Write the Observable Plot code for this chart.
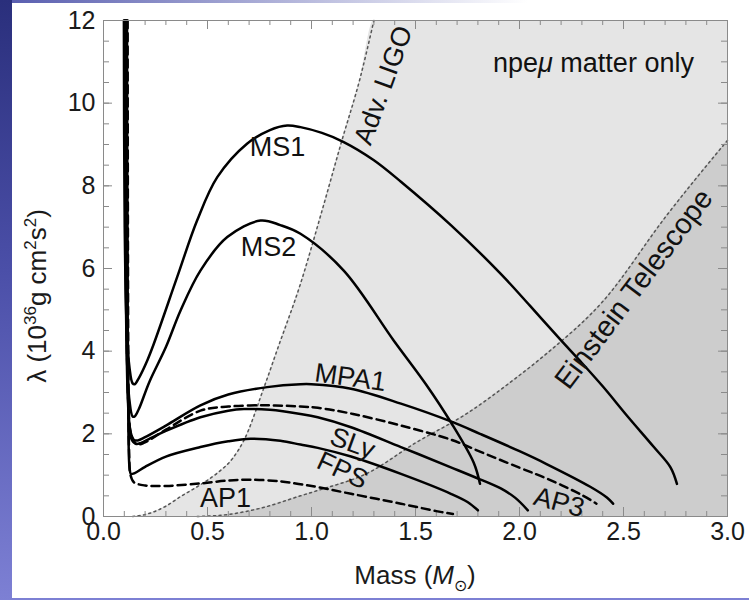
<!DOCTYPE html>
<html><head><meta charset="utf-8">
<script src="https://cdn.jsdelivr.net/npm/d3@7"></script>
<script src="https://cdn.jsdelivr.net/npm/@observablehq/plot@0.6"></script>
<style>
html,body{margin:0;padding:0;width:749px;height:600px;overflow:hidden;}
body{background:linear-gradient(to bottom,#2a2f7c 0%,#4b4fa8 45%,#7d80d4 100%);position:relative;font-family:'Liberation Sans',Arial,sans-serif;}
#topstrip{position:absolute;left:12px;top:0;width:737px;height:3px;background:linear-gradient(to right,#5a5fb0,#fff 70%);}
#panel{position:absolute;left:12px;top:3px;width:737px;height:595px;background:#fff;}
</style></head><body>
<div id="topstrip"></div>
<div id="panel"></div>
<script>
// ---- data (Mass in solar masses, lambda in 1e36 g cm^2 s^2) ----
const ms1 = [[0.098,12],[0.102,7],[0.112,4.5],[0.125,3.6],[0.14,3.22],[0.15,3.2],[0.17,3.35],[0.21,3.77],[0.242,4.18],[0.354,5.79],[0.45,7.16],[0.547,8.21],[0.69,9.02],[0.8,9.35],[0.883,9.46],[0.947,9.42],[1.05,9.28],[1.155,9.06],[1.3,8.62],[1.43,8.1],[1.67,7.05],[1.91,5.87],[2.05,5.1],[2.2,4.26],[2.29,3.77],[2.4,3.15],[2.52,2.42],[2.646,1.68],[2.726,1.19],[2.757,0.79]];
const ms2 = [[0.101,12],[0.105,7],[0.113,3.8],[0.125,2.8],[0.14,2.42],[0.15,2.42],[0.17,2.6],[0.22,3.25],[0.30,4.1],[0.37,4.98],[0.466,5.95],[0.595,6.76],[0.755,7.16],[0.85,7.05],[0.947,6.84],[1.155,5.95],[1.395,4.26],[1.55,3.2],[1.67,2.28],[1.78,1.3],[1.81,0.79]];
const mpa1 = [[0.104,12],[0.108,6],[0.116,3],[0.128,2.1],[0.145,1.86],[0.165,1.84],[0.2,1.92],[0.3,2.2],[0.466,2.69],[0.6,2.95],[0.787,3.13],[0.947,3.2],[1.0,3.2],[1.19,3.09],[1.43,2.73],[1.67,2.3],[1.81,2.0],[2.0,1.58],[2.13,1.27],[2.34,0.72],[2.42,0.46],[2.45,0.31]];
const ap3 = [[0.107,12],[0.111,6],[0.119,2.8],[0.135,1.95],[0.16,1.75],[0.194,1.78],[0.3,2.1],[0.466,2.56],[0.6,2.66],[0.787,2.69],[0.947,2.66],[1.03,2.63],[1.2,2.48],[1.43,2.2],[1.67,1.86],[1.81,1.57],[2.0,1.18],[2.13,0.92],[2.3,0.52],[2.37,0.31]];
const sly = [[0.11,12],[0.114,6],[0.12,2.6],[0.132,1.9],[0.155,1.76],[0.18,1.78],[0.22,1.88],[0.3,2.07],[0.466,2.4],[0.6,2.56],[0.675,2.6],[0.8,2.58],[0.947,2.48],[1.03,2.4],[1.19,2.16],[1.43,1.68],[1.67,1.19],[1.81,0.9],[1.91,0.68],[1.98,0.45],[2.04,0.15]];
const fps = [[0.113,12],[0.116,5],[0.12,2],[0.125,1.2],[0.132,1.03],[0.15,1.05],[0.2,1.2],[0.3,1.45],[0.466,1.68],[0.6,1.82],[0.707,1.88],[0.85,1.83],[0.947,1.74],[1.03,1.66],[1.19,1.45],[1.43,1.03],[1.67,0.55],[1.75,0.35],[1.8,0.15]];
const ap1 = [[0.116,12],[0.119,4],[0.123,1.6],[0.13,1.0],[0.146,0.83],[0.2,0.75],[0.3,0.74],[0.466,0.8],[0.6,0.87],[0.707,0.89],[0.85,0.85],[0.947,0.78],[1.03,0.71],[1.19,0.55],[1.43,0.31],[1.6,0.13],[1.68,0.06]];
const advLigo = [[0.14,0],[0.21,0.06],[0.3,0.25],[0.37,0.48],[0.46,0.75],[0.547,1.05],[0.62,1.4],[0.675,1.84],[0.77,3.1],[0.84,4.1],[0.947,5.63],[1.045,7.3],[1.144,9.06],[1.235,10.63],[1.30,12]];
const einstein = [[0.45,0],[0.6,0.05],[0.755,0.2],[0.947,0.5],[1.03,0.63],[1.27,1.05],[1.5,1.78],[1.75,2.5],[1.97,3.3],[2.13,3.94],[2.4,5.2],[2.71,7.3],[3.0,9.1]];
const eosNames = ["MS1","MS2","MPA1","AP3","SLy","FPS","AP1"];
const eosDashed = [false,false,false,true,false,false,true];
const labelText = ["MS1","MS2","MPA1","SLy","FPS","AP1","AP3","Adv. LIGO","Einstein Telescope"];
const labelX = [0.837,0.793,1.187,1.197,1.149,0.587,2.19,1.346,2.55];
const labelY = [8.93,6.51,3.36,1.77,1.11,0.44,0.34,10.43,5.5];
const labelRot = [0,0,8,20,25,0,15,-70,-53];
const labelSize = [27,27,27,27,27,27,27,27,29];
const xMajor = [0,0.5,1,1.5,2,2.5,3];
const xMinor = d3.range(0,31).map(i=>i/10);
const yMajor = [0,2,4,6,8,10,12];
const yMinor = d3.range(0,25).map(i=>i/2);

// ---- build tables ----
const eosData = [ms1,ms2,mpa1,ap3,sly,fps,ap1];
const rows = [];
eosData.forEach((pts,i)=>pts.forEach(([x,y])=>rows.push({eos:eosNames[i],dashed:eosDashed[i],x,y})));
const toXY = a => a.map(([x,y])=>({x,y}));
const ligoArea = toXY(advLigo.concat([[3.0,12]]));
const etArea = toXY(einstein);
const labels = labelText.map((t,i)=>({t,x:labelX[i],y:labelY[i],r:labelRot[i],s:labelSize[i]}));

const FH = 496; // frame height in px
const FW = 624;
const tickCol = "#8a8a8a";
const chart = Plot.plot({
  width: 737, height: 595,
  marginLeft: 91, marginRight: 22, marginTop: 17, marginBottom: 82,
  x: {domain:[0,3]},
  y: {domain:[0,12]},
  style: {fontFamily:"'Liberation Sans', Arial, sans-serif", fontSize:"25px", background:"white", color:"#1a1a1a"},
  marks: [
    Plot.areaY(ligoArea, {x:"x", y1:0, y2:"y", fill:"#e5e5e5", curve:"monotone-x"}),
    Plot.areaY(etArea, {x:"x", y1:0, y2:"y", fill:"#cdcdcd", curve:"monotone-x"}),
    Plot.line(toXY(advLigo), {x:"x", y:"y", stroke:"#555", strokeWidth:1.5, strokeDasharray:"2,3.5", curve:"monotone-x"}),
    Plot.line(etArea, {x:"x", y:"y", stroke:"#555", strokeWidth:1.5, strokeDasharray:"2,3.5", curve:"monotone-x"}),
    Plot.tickX(xMinor, {x:d=>d, insetTop:FH-5, stroke:tickCol}),
    Plot.tickX(xMajor, {x:d=>d, insetTop:FH-9, stroke:tickCol}),
    Plot.tickX(xMinor, {x:d=>d, insetBottom:FH-5, stroke:tickCol}),
    Plot.tickX(xMajor, {x:d=>d, insetBottom:FH-9, stroke:tickCol}),
    Plot.tickY(yMinor, {y:d=>d, insetRight:FW-6, stroke:tickCol}),
    Plot.tickY(yMajor, {y:d=>d, insetRight:FW-9, stroke:tickCol}),
    Plot.tickY(yMinor, {y:d=>d, insetLeft:FW-6, stroke:tickCol}),
    Plot.tickY(yMajor, {y:d=>d, insetLeft:FW-9, stroke:tickCol}),
    Plot.line(rows.filter(d=>!d.dashed), {x:"x", y:"y", z:"eos", stroke:"black", strokeWidth:2.5, curve:"catmull-rom"}),
    Plot.line(rows.filter(d=>d.dashed), {x:"x", y:"y", z:"eos", stroke:"black", strokeWidth:2.5, strokeDasharray:"8,5", curve:"catmull-rom"}),
    Plot.text(labels, {x:"x", y:"y", text:"t", rotate:"r", fontSize:"s", fill:"#111"}),
    Plot.frame({stroke:"#8a8a8a"}),
    Plot.axisX({ticks:xMajor, tickFormat:d3.format(".1f"), tickSize:0, tickPadding:6, fontSize:25, label:null}),
    Plot.axisY({ticks:yMajor, tickFormat:d=>String(d), tickSize:0, tickPadding:8, fontSize:25, label:null})
  ]
});
const panel = document.getElementById("panel");
panel.appendChild(chart);
chart.style.display = "block";

const svg = d3.select(chart);
const sx = chart.scale("x"), sy = chart.scale("y");
// y axis title
const yt = svg.append("text").attr("transform","translate(34,293) rotate(-90)")
  .attr("text-anchor","middle").attr("fill","#1a1a1a").style("font-size","26px");
yt.append("tspan").text("λ (10");
yt.append("tspan").attr("dy",-10).style("font-size","17px").text("36");
yt.append("tspan").attr("dy",10).text("g cm");
yt.append("tspan").attr("dy",-10).style("font-size","17px").text("2");
yt.append("tspan").attr("dy",10).text("s");
yt.append("tspan").attr("dy",-10).style("font-size","17px").text("2");
yt.append("tspan").attr("dy",10).text(")");
// x axis title
const xt = svg.append("text").attr("x",403).attr("y",581).attr("text-anchor","middle")
  .attr("fill","#1a1a1a").style("font-size","26px");
xt.append("tspan").text("Mass (");
xt.append("tspan").style("font-style","italic").text("M");
xt.append("tspan").attr("dy",7).style("font-size","16px").text("⊙");
xt.append("tspan").attr("dy",-7).text(")");
// annotation
const nt = svg.append("text").attr("x",sx.apply(1.875)).attr("y",sy.apply(10.74))
  .attr("text-anchor","start").attr("fill","#111").style("font-size","27px");
nt.append("tspan").text("npe");
nt.append("tspan").style("font-style","italic").text("μ");
nt.append("tspan").text(" matter only");
</script>
</body></html>
